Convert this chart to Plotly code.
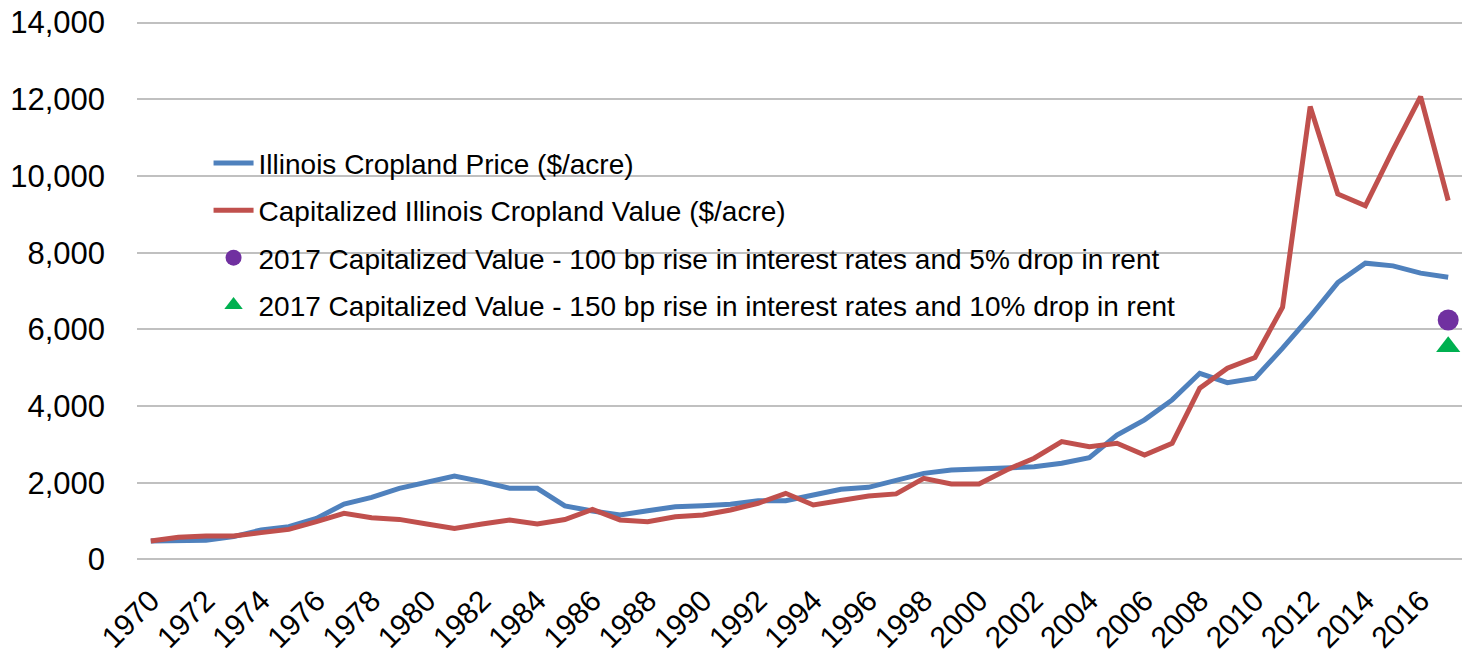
import plotly.graph_objects as go

years = list(range(1970, 2018))

cropland_price = [480, 480, 500, 595, 770, 855, 1070, 1445, 1620, 1855,
                  2030, 2175, 2030, 1855, 1855, 1395, 1265, 1160, 1270, 1375,
                  1400, 1440, 1530, 1530, 1680, 1830, 1880, 2070, 2245, 2330,
                  2355, 2375, 2415, 2510, 2655, 3245, 3640, 4160, 4855, 4610,
                  4725, 5510, 6335, 7220, 7725, 7655, 7465, 7360]

capitalized_value = [480, 580, 615, 615, 700, 785, 985, 1205, 1090, 1045,
                     925, 810, 925, 1030, 925, 1040, 1305, 1030, 985, 1115,
                     1160, 1290, 1465, 1725, 1420, 1550, 1655, 1710, 2115, 1970,
                     1970, 2335, 2640, 3075, 2940, 3030, 2725, 3030, 4465, 4985,
                     5265, 6575, 11810, 9530, 9220, 10680, 12070, 9360]

scenario_year = [2017]
scenario_100bp = [6245]
scenario_150bp = [5545]

names = [
    "Illinois Cropland Price ($/acre)",
    "Capitalized Illinois Cropland Value ($/acre)",
    "2017 Capitalized Value - 100 bp rise in interest rates and 5% drop in rent",
    "2017 Capitalized Value - 150 bp rise in interest rates and 10% drop in rent",
]

fig = go.Figure()
fig.add_trace(go.Scatter(x=years, y=cropland_price, mode="lines", name=names[0],
                         line=dict(color="#4F81BD", width=5), legendgroup="a"))
fig.add_trace(go.Scatter(x=years, y=capitalized_value, mode="lines", name=names[1],
                         line=dict(color="#C0504D", width=5), legendgroup="b"))
fig.add_trace(go.Scatter(x=scenario_year, y=scenario_100bp, mode="markers", name=names[2],
                         marker=dict(color="#7030A0", size=21, symbol="circle"), legendgroup="c"))
fig.add_trace(go.Scatter(x=scenario_year, y=scenario_150bp, mode="markers", name=names[3],
                         marker=dict(color="#00B050", size=21, symbol="triangle-up"), legendgroup="d"))

fig.update_layout(
    width=1471, height=654,
    margin=dict(l=137, r=9, t=20.5, b=93, pad=0),
    paper_bgcolor="white", plot_bgcolor="white",
    font=dict(family="Liberation Sans, Arial, sans-serif", size=28, color="#000000"),
    showlegend=True,
    legend=dict(x=0.054, y=0.783, xanchor="left", yanchor="top",
                bgcolor="rgba(0,0,0,0)", font=dict(size=28),
                tracegroupgap=8, itemwidth=40),
)
fig.update_xaxes(
    range=[1969.5, 2017.5], tick0=1970, dtick=2, tickangle=-45,
    showgrid=False, zeroline=False, showline=False, ticks="",
    tickfont=dict(size=30), ticklabelstandoff=15, automargin=False,
    ticklabeloverflow="allow",
)
fig.update_yaxes(
    range=[-40, 14040], tickvals=list(range(0, 14001, 2000)), tickformat=",d",
    showgrid=True, gridcolor="#C0C0C0", gridwidth=2,
    zeroline=False, showline=False, ticks="",
    tickfont=dict(size=31), ticklabelstandoff=31, automargin=False,
    ticklabeloverflow="allow",
)

fig.write_html("out.html",
               config={"displayModeBar": False},
               post_script="document.body.style.margin='0';document.body.style.overflow='hidden';")
